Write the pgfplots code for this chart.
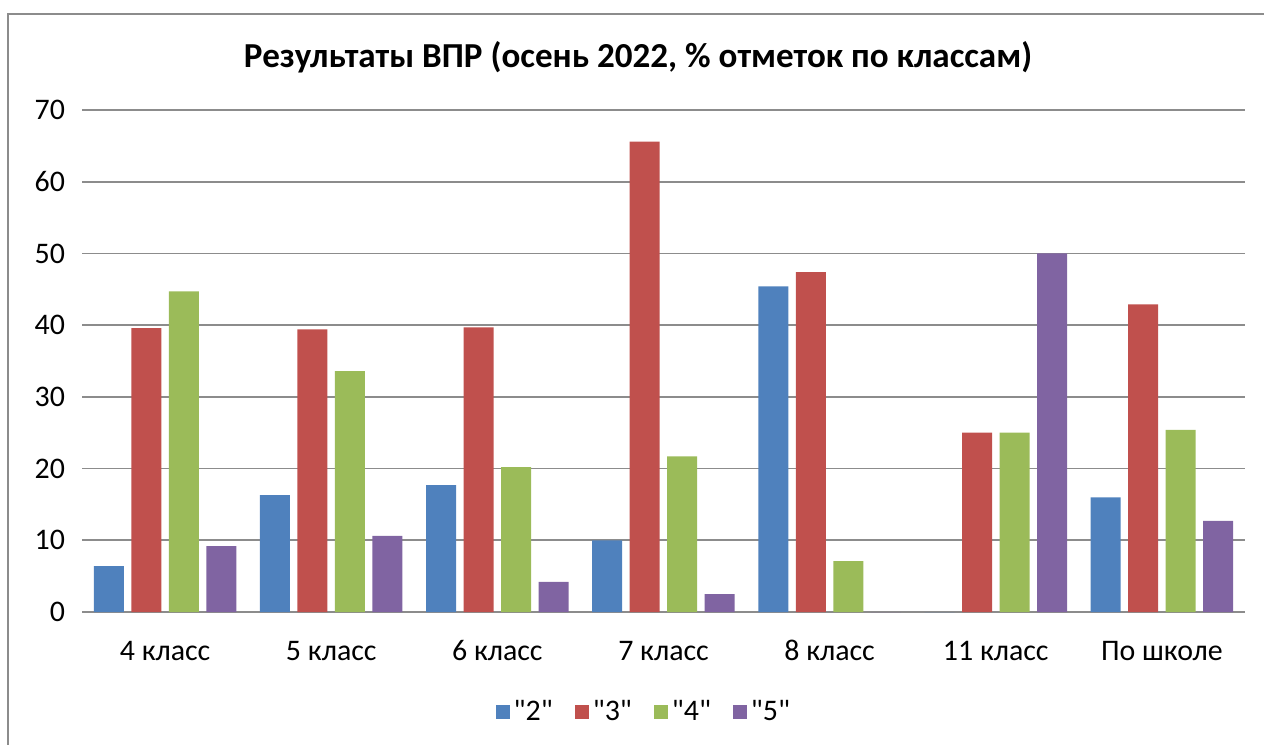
\documentclass[border=0pt]{standalone}
\usepackage{pgfplots}
\pgfplotsset{compat=1.18}
\usepackage{fontspec}
\setmainfont{Carlito}[Ligatures=TeXOff]
\definecolor{cblue}{HTML}{4F81BD}
\definecolor{cred}{HTML}{C0504D}
\definecolor{cgreen}{HTML}{9BBB59}
\definecolor{cpurple}{HTML}{8064A2}
\definecolor{gridgray}{HTML}{8C8C8C}
\newcommand{\q}[1]{\symbol{34}#1\symbol{34}}
\begin{document}
\begin{tikzpicture}
\useasboundingbox (-41bp,-66.5bp) rectangle (591bp,306bp);
\draw[gridgray, line width=1bp] (-37bp,-100bp) -- (-37bp,299bp) -- (700bp,299bp);
\node[font=\fontsize{17.6}{20}\selectfont\bfseries] at (278bp,277.5bp) {Результаты ВПР (осень 2022, \% отметок по классам)};
\begin{axis}[
  at={(0,0)}, anchor=south west,
  width=581.5bp, height=251bp, scale only axis,
  ybar=3.75bp, bar width=15bp,
  xmin=-0.5, xmax=6.5, ymin=0, ymax=70,
  xtick=data,
  xticklabels={4 класс,5 класс,6 класс,7 класс,8 класс,11 класс,По школе},
  ytick={0,10,...,70},
  axis x line*=bottom, axis y line*=left,
  y axis line style={draw=none},
  x axis line style={gridgray, line width=0.8bp, -},
  major tick length=0pt,
  ymajorgrids, grid style={gridgray, line width=0.8bp},
  tick label style={font=\fontsize{15}{18}\selectfont},
  /pgf/number format/assume math mode=true,
  yticklabel style={xshift=-5bp},
  xticklabel style={anchor=base, yshift=-24bp},
  legend style={at={(0.484,-0.199)}, anchor=center, draw=none, legend columns=4,
    font=\fontsize{15}{18}\selectfont, /tikz/every even column/.append style={column sep=9bp},
    cells={anchor=west}},
  legend image code/.code={\fill[#1] (0bp,-3.5bp) rectangle (7bp,3.5bp);},
]
\addplot[fill=cblue, draw=none] coordinates {(0,6.4) (1,16.3) (2,17.7) (3,10.0) (4,45.4) (5,0) (6,16.0)};
\addplot[fill=cred, draw=none] coordinates {(0,39.6) (1,39.4) (2,39.7) (3,65.6) (4,47.4) (5,25.0) (6,42.9)};
\addplot[fill=cgreen, draw=none] coordinates {(0,44.7) (1,33.6) (2,20.2) (3,21.7) (4,7.1) (5,25.0) (6,25.4)};
\addplot[fill=cpurple, draw=none] coordinates {(0,9.2) (1,10.6) (2,4.2) (3,2.5) (4,0) (5,50.0) (6,12.7)};
\legend{\q{2},\q{3},\q{4},\q{5}}
\end{axis}
\end{tikzpicture}
\end{document}
